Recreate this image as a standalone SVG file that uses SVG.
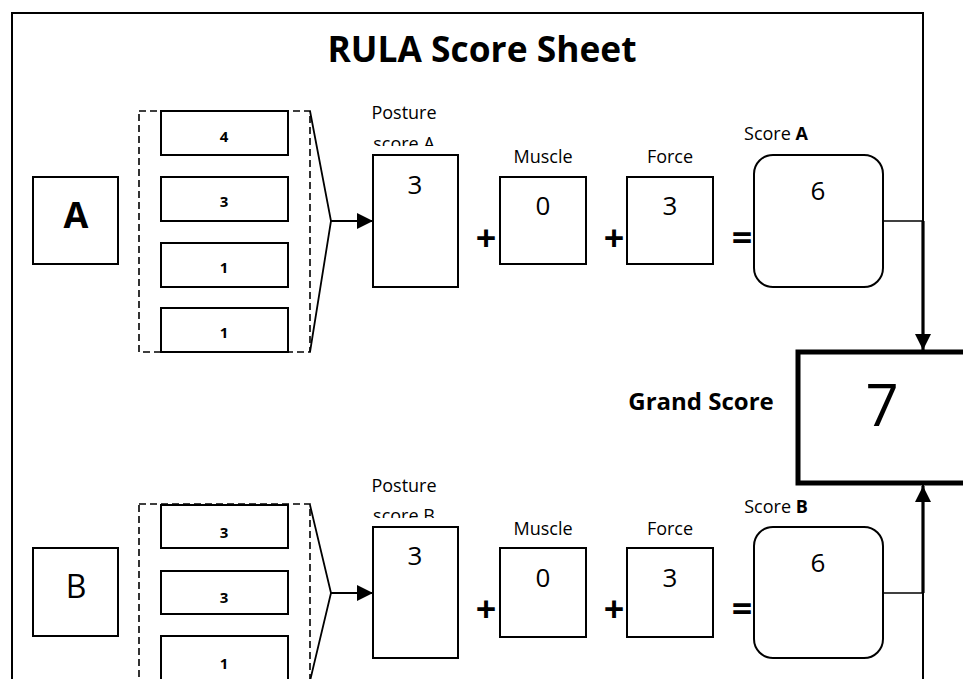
<svg xmlns="http://www.w3.org/2000/svg" width="963" height="679" viewBox="0 0 963 679">
  <defs>
    <style>
      text { font-family: "Open Sans", "Noto Sans", "Liberation Sans", sans-serif; fill: #000; }
      .box { fill: #fff; stroke: #000; stroke-width: 2; }
      .dash { fill: none; stroke: #000; stroke-width: 1.6; stroke-dasharray: 7 4; }
      .edge { fill: none; stroke: #000; stroke-width: 1.8; }
      .thin { fill: none; stroke: #000; stroke-width: 1.4; }
      .thick { fill: none; stroke: #000; stroke-width: 3.2; }
      .lbl { font-size: 18px; text-anchor: middle; }
      .val { font-size: 26px; text-anchor: middle; }
      .part { font-size: 15px; font-weight: bold; text-anchor: middle; }
      .op { font-size: 36px; font-weight: bold; text-anchor: middle; }
    </style>
    <marker id="arrow" viewBox="0 0 16 16" refX="16" refY="8" markerWidth="16" markerHeight="16" markerUnits="userSpaceOnUse" orient="auto">
      <path d="M0,0 L16,8 L0,16 Z" fill="#000"/>
    </marker>
    <clipPath id="clipA"><rect x="360" y="120" width="100" height="26"/></clipPath>
    <clipPath id="clipB"><rect x="360" y="492" width="100" height="26"/></clipPath>
  </defs>

  <rect width="963" height="679" fill="#fff"/>

  <!-- sheet frame -->
  <rect x="12" y="13" width="911" height="720" fill="none" stroke="#000" stroke-width="2"/>

  <text x="482" y="62" font-size="35" font-weight="bold" text-anchor="middle" textLength="309" lengthAdjust="spacingAndGlyphs">RULA Score Sheet</text>

  <!-- ===== Group A ===== -->
  <g id="labelA">
    <rect class="box" x="33" y="177" width="85" height="87"/>
    <text x="76" y="228" font-size="36" font-weight="bold" text-anchor="middle">A</text>
  </g>
  <g id="partsA">
    <rect class="dash" x="139" y="111" width="171" height="241"/>
    <rect class="box" x="161" y="111" width="127" height="44"/>
    <text class="part" x="224" y="142">4</text>
    <rect class="box" x="161" y="177" width="127" height="44"/>
    <text class="part" x="224" y="207">3</text>
    <rect class="box" x="161" y="243" width="127" height="44"/>
    <text class="part" x="224" y="273">1</text>
    <rect class="box" x="161" y="308" width="127" height="44"/>
    <text class="part" x="224" y="338">1</text>
  </g>
  <g id="postureA">
    <text class="lbl" x="404" y="119">Posture</text>
    <text class="lbl" x="404" y="150" clip-path="url(#clipA)">score A</text>
    <rect class="box" x="373" y="155" width="85" height="132"/>
    <text class="val" x="415" y="194">3</text>
  </g>
  <text class="op" x="486" y="251">+</text>
  <g id="muscleA">
    <text class="lbl" x="543" y="163">Muscle</text>
    <rect class="box" x="500" y="177" width="86" height="87"/>
    <text class="val" x="543" y="215">0</text>
  </g>
  <text class="op" x="614" y="251">+</text>
  <g id="forceA">
    <text class="lbl" x="670" y="163">Force</text>
    <rect class="box" x="627" y="177" width="86" height="87"/>
    <text class="val" x="670" y="215">3</text>
  </g>
  <text class="op" x="742" y="250">=</text>
  <g id="scoreA">
    <text class="lbl" x="776" y="140">Score <tspan font-weight="bold">A</tspan></text>
    <rect class="box" x="754" y="155" width="129" height="132" rx="19"/>
    <text class="val" x="818" y="200">6</text>
  </g>

  <!-- ===== Group B ===== -->
  <g id="labelB">
    <rect class="box" x="33" y="548" width="85" height="88"/>
    <text x="76" y="598" font-size="32" text-anchor="middle">B</text>
  </g>
  <g id="partsB">
    <rect class="dash" x="139" y="504" width="171" height="240"/>
    <rect class="box" x="161" y="505" width="127" height="43"/>
    <text class="part" x="224" y="538">3</text>
    <rect class="box" x="161" y="571" width="127" height="43"/>
    <text class="part" x="224" y="603">3</text>
    <rect class="box" x="161" y="636" width="127" height="60"/>
    <text class="part" x="224" y="669">1</text>
  </g>
  <g id="postureB">
    <text class="lbl" x="404" y="492">Posture</text>
    <text class="lbl" x="404" y="522" clip-path="url(#clipB)">score B</text>
    <rect class="box" x="373" y="527" width="85" height="131"/>
    <text class="val" x="415" y="565">3</text>
  </g>
  <text class="op" x="486" y="622">+</text>
  <g id="muscleB">
    <text class="lbl" x="543" y="535">Muscle</text>
    <rect class="box" x="500" y="548" width="86" height="89"/>
    <text class="val" x="543" y="587">0</text>
  </g>
  <text class="op" x="614" y="622">+</text>
  <g id="forceB">
    <text class="lbl" x="670" y="535">Force</text>
    <rect class="box" x="627" y="548" width="86" height="89"/>
    <text class="val" x="670" y="587">3</text>
  </g>
  <text class="op" x="742" y="621">=</text>
  <g id="scoreB">
    <text class="lbl" x="776" y="513">Score <tspan font-weight="bold">B</tspan></text>
    <rect class="box" x="754" y="527" width="129" height="131" rx="19"/>
    <text class="val" x="818" y="572">6</text>
  </g>

  <!-- ===== Grand score ===== -->
  <g id="grand">
    <text x="701" y="410" font-size="24" font-weight="bold" text-anchor="middle">Grand Score</text>
    <rect x="798" y="352" width="220" height="131" fill="#fff" stroke="#000" stroke-width="5"/>
    <text x="882" y="426" font-size="58" text-anchor="middle">7</text>
  </g>

  <!-- connectors -->
  <g id="connectors">
    <polyline class="edge" points="310,111 331,221 310,352"/>
    <line class="edge" x1="331" y1="221" x2="373" y2="221" marker-end="url(#arrow)"/>
    <polyline class="edge" points="310,505 331,593 310,681"/>
    <line class="edge" x1="331" y1="593" x2="373" y2="593" marker-end="url(#arrow)"/>
    <line class="thin" x1="883" y1="221" x2="923" y2="221"/>
    <line class="thick" x1="923" y1="221" x2="923" y2="350" marker-end="url(#arrow)"/>
    <line class="thin" x1="883" y1="593" x2="923" y2="593"/>
    <line class="thick" x1="923" y1="593" x2="923" y2="486" marker-end="url(#arrow)"/>
  </g>
</svg>
